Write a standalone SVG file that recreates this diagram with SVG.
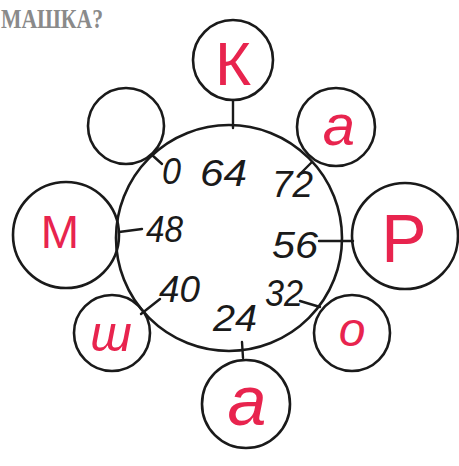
<svg xmlns="http://www.w3.org/2000/svg" width="459" height="466" viewBox="0 0 459 466">
<style>
.c{fill:none;stroke:#1a1a1a;stroke-width:2.6}
.l{stroke:#1a1a1a;stroke-width:2.4;fill:none;stroke-linecap:round}
.n{font-family:"Liberation Sans",sans-serif;font-style:italic;font-size:37px;fill:#1a1a1a}
.r{font-family:"Liberation Sans",sans-serif;fill:#e8244e;text-anchor:middle}
.t{font-family:"Liberation Serif",serif;font-size:28px;fill:#8a8a8a;font-weight:bold}
</style>
<rect width="459" height="466" fill="#fff"/>
<text class="t" x="1" y="28" textLength="102" lengthAdjust="spacingAndGlyphs">МАШКА?</text>
<g id="main"><circle class="c" cx="229" cy="238" r="113"/></g>
<g id="connectors">
<line class="l" x1="233" y1="100" x2="233" y2="128"/>
<line class="l" x1="152" y1="155" x2="162" y2="164"/>
<line class="l" x1="300" y1="174" x2="312" y2="162"/>
<line class="l" x1="319" y1="241" x2="353" y2="241"/>
<line class="l" x1="300" y1="301" x2="320" y2="307"/>
<line class="l" x1="242" y1="342" x2="243" y2="358"/>
<line class="l" x1="141" y1="314" x2="160" y2="299"/>
<line class="l" x1="119" y1="232" x2="142" y2="229"/>
</g>
<g id="node-k"><circle class="c" cx="233" cy="60" r="40"/><text class="r" x="233" y="85" font-size="62">К</text></g>
<g id="node-empty"><circle class="c" cx="126" cy="126" r="38"/></g>
<g id="node-a1"><circle class="c" cx="336" cy="127" r="39"/><text class="r" x="339" y="145" font-size="58" font-style="italic">a</text></g>
<g id="node-p"><circle class="c" cx="405" cy="236" r="53"/><text class="r" x="404" y="262" font-size="68">Р</text></g>
<g id="node-o"><circle class="c" cx="352" cy="333" r="38"/><text class="r" x="352" y="346" font-size="48" font-style="italic">о</text></g>
<g id="node-a2"><circle class="c" cx="246" cy="404" r="44"/><text class="r" x="247" y="425" font-size="70" font-style="italic">a</text></g>
<g id="node-m"><circle class="c" cx="66" cy="235" r="53"/><text class="r" x="60" y="248" font-size="46">М</text></g>
<g id="node-sh"><circle class="c" cx="112" cy="333" r="38"/><text class="r" x="111" y="351" font-size="50" font-style="italic">ш</text></g>
<g id="numbers">
<text class="n" x="162" y="184" textLength="19" lengthAdjust="spacingAndGlyphs">0</text>
<text class="n" x="200" y="186" textLength="47" lengthAdjust="spacingAndGlyphs">64</text>
<text class="n" x="272" y="197" textLength="41" lengthAdjust="spacingAndGlyphs">72</text>
<text class="n" x="146" y="242" textLength="37" lengthAdjust="spacingAndGlyphs">48</text>
<text class="n" x="272" y="258" textLength="46" lengthAdjust="spacingAndGlyphs">56</text>
<text class="n" x="159" y="302" textLength="41" lengthAdjust="spacingAndGlyphs">40</text>
<text class="n" x="265" y="306" textLength="38" lengthAdjust="spacingAndGlyphs">32</text>
<text class="n" x="213" y="331" textLength="44" lengthAdjust="spacingAndGlyphs">24</text>
</g>
</svg>
